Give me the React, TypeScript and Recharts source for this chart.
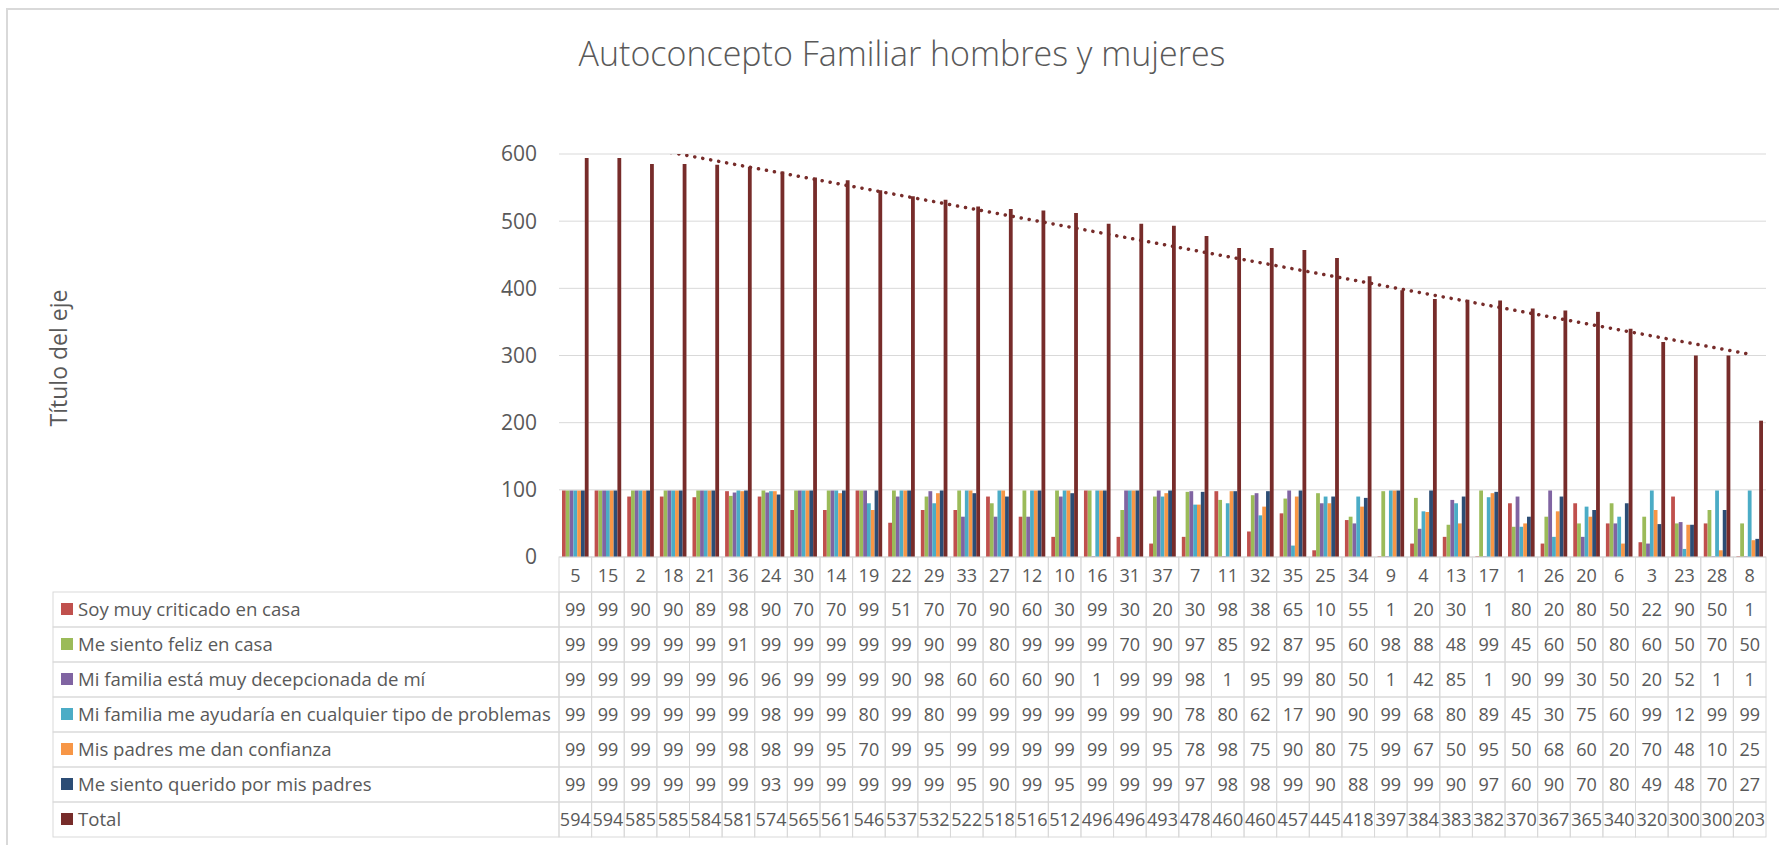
import React from 'react';
import { ComposedChart, Bar, Line, XAxis, YAxis, CartesianGrid } from 'recharts';

const categories = [5, 15, 2, 18, 21, 36, 24, 30, 14, 19, 22, 29, 33, 27, 12, 10, 16, 31, 37, 7, 11, 32, 35, 25, 34, 9, 4, 13, 17, 1, 26, 20, 6, 3, 23, 28, 8];
const soyCriticado = [99, 99, 90, 90, 89, 98, 90, 70, 70, 99, 51, 70, 70, 90, 60, 30, 99, 30, 20, 30, 98, 38, 65, 10, 55, 1, 20, 30, 1, 80, 20, 80, 50, 22, 90, 50, 1];
const sientoFeliz = [99, 99, 99, 99, 99, 91, 99, 99, 99, 99, 99, 90, 99, 80, 99, 99, 99, 70, 90, 97, 85, 92, 87, 95, 60, 98, 88, 48, 99, 45, 60, 50, 80, 60, 50, 70, 50];
const decepcionada = [99, 99, 99, 99, 99, 96, 96, 99, 99, 99, 90, 98, 60, 60, 60, 90, 1, 99, 99, 98, 1, 95, 99, 80, 50, 1, 42, 85, 1, 90, 99, 30, 50, 20, 52, 1, 1];
const ayudaria = [99, 99, 99, 99, 99, 99, 98, 99, 99, 80, 99, 80, 99, 99, 99, 99, 99, 99, 90, 78, 80, 62, 17, 90, 90, 99, 68, 80, 89, 45, 30, 75, 60, 99, 12, 99, 99];
const confianza = [99, 99, 99, 99, 99, 98, 98, 99, 95, 70, 99, 95, 99, 99, 99, 99, 99, 99, 95, 78, 98, 75, 90, 80, 75, 99, 67, 50, 95, 50, 68, 60, 20, 70, 48, 10, 25];
const querido = [99, 99, 99, 99, 99, 99, 93, 99, 99, 99, 99, 99, 95, 90, 99, 95, 99, 99, 99, 97, 98, 98, 99, 90, 88, 99, 99, 90, 97, 60, 90, 70, 80, 49, 48, 70, 27];
const totals = [594, 594, 585, 585, 584, 581, 574, 565, 561, 546, 537, 532, 522, 518, 516, 512, 496, 496, 493, 478, 460, 460, 457, 445, 418, 397, 384, 383, 382, 370, 367, 365, 340, 320, 300, 300, 203];
const yTicks = [0, 100, 200, 300, 400, 500, 600];

const seriesNames = [
  'Soy muy criticado en casa',
  'Me siento feliz en casa',
  'Mi familia está muy decepcionada de mí',
  'Mi familia me ayudaría en cualquier tipo de problemas',
  'Mis padres me dan confianza',
  'Me siento querido por mis padres',
  'Total',
];
const seriesColors = ['#C0504D', '#9BBB59', '#8064A2', '#4BACC6', '#F79646', '#2C4D75', '#772C2A'];
const seriesValues = [soyCriticado, sientoFeliz, decepcionada, ayudaria, confianza, querido, totals];

const FONT = '"Open Sans", "Noto Sans", sans-serif';
const TEXT = '#595959';
const GRID = '#D9D9D9';
const W = 1779;
const H = 845;
const PLOT_LEFT = 559;
const PLOT_RIGHT = 1766;
const PLOT_TOP = 154;
const PLOT_BOTTOM = 557;
const ROW_H = 35;
const TABLE_LEFT = 53;
const Y_AXIS_W = 60;
const BAND = (PLOT_RIGHT - PLOT_LEFT) / categories.length;

// linear trendline (least squares) of Total, as Excel computes it
const n = totals.length;
const mx = (n - 1) / 2;
const my = totals.reduce((a, b) => a + b, 0) / n;
let sxy = 0;
let sxx = 0;
totals.forEach((v, i) => {
  sxy += (i - mx) * (v - my);
  sxx += (i - mx) * (i - mx);
});
const slope = sxy / sxx;
const intercept = my - slope * mx;

const data = categories.map((c, i) => {
  const row: any = { cat: String(c), trend: intercept + slope * i };
  seriesValues.forEach((vals, si) => {
    row['s' + si] = vals[i];
  });
  return row;
});

const CategoryTick = (props: any) => {
  const { x, y, payload } = props;
  return (
    <g>
      <rect x={x - BAND / 2} y={y} width={BAND} height={ROW_H} fill="none" stroke={GRID} strokeWidth={1} />
      <text x={x} y={y + 25} textAnchor="middle" fill={TEXT} fontSize={18} fontFamily={FONT}>
        {payload.value}
      </text>
    </g>
  );
};

const makeRowTick = (si: number) => (props: any) => {
  const { x, y, payload, index } = props;
  const i = payload && typeof payload.index === 'number' ? payload.index : index;
  return (
    <g>
      {i === 0 && (
        <g>
          <rect x={TABLE_LEFT} y={y} width={PLOT_LEFT - TABLE_LEFT} height={ROW_H} fill="none" stroke={GRID} strokeWidth={1} />
          <rect x={61} y={y + 11} width={12} height={12} fill={seriesColors[si]} />
          <text x={78} y={y + 24} fill={TEXT} fontSize={18.6} fontFamily={FONT}>
            {seriesNames[si]}
          </text>
        </g>
      )}
      <rect x={x - BAND / 2} y={y} width={BAND} height={ROW_H} fill="none" stroke={GRID} strokeWidth={1} />
      <text x={x} y={y + 24} textAnchor="middle" fill={TEXT} fontSize={18} fontFamily={FONT}>
        {seriesValues[si][i]}
      </text>
    </g>
  );
};

export default function App() {
  const bottomMargin = H - PLOT_BOTTOM - ROW_H * 8;
  return (
    <div style={{ position: 'absolute', left: 0, top: 0, width: W, height: H, background: '#fff' }}>
      <ComposedChart
        width={W}
        height={H}
        data={data}
        margin={{ top: PLOT_TOP, right: W - PLOT_RIGHT, bottom: bottomMargin, left: PLOT_LEFT - Y_AXIS_W }}
        barGap={0}
        barSize={3.8}
      >
        <CartesianGrid vertical={false} stroke={GRID} strokeWidth={1} />
        <YAxis
          domain={[0, 600]}
          ticks={yTicks}
          allowDataOverflow
          width={Y_AXIS_W}
          axisLine={false}
          tickLine={false}
          tickSize={0}
          tickMargin={22}
          tick={{ fill: TEXT, fontSize: 21, fontFamily: FONT }}
        />
        <XAxis
          dataKey="cat"
          type="category"
          height={ROW_H}
          interval={0}
          axisLine={false}
          tickLine={false}
          tickSize={0}
          tickMargin={0}
          tick={CategoryTick}
        />
        {seriesNames.map((_, si) => (
          <XAxis
            key={'ax' + si}
            xAxisId={'r' + si}
            dataKey="cat"
            type="category"
            height={ROW_H}
            interval={0}
            axisLine={false}
            tickLine={false}
            tickSize={0}
            tickMargin={0}
            tick={makeRowTick(si)}
          />
        ))}
        {seriesNames.map((name, si) => (
          <Bar key={'b' + si} dataKey={'s' + si} name={name} fill={seriesColors[si]} isAnimationActive={false} />
        ))}
        <Line
          dataKey="trend"
          stroke="#772C2A"
          strokeWidth={3.5}
          strokeDasharray="0.1 8"
          strokeLinecap="round"
          dot={false}
          activeDot={false}
          isAnimationActive={false}
        />
      </ComposedChart>
      <svg width={W} height={H} style={{ position: 'absolute', left: 0, top: 0, pointerEvents: 'none' }}>
        <rect x={7} y={9} width={W + 20} height={H + 20} fill="none" stroke={GRID} strokeWidth={2} />
        <text x={902} y={66} textAnchor="middle" fill={TEXT} fontSize={34} fontWeight={300} fontFamily={FONT}>
          Autoconcepto Familiar hombres y mujeres
        </text>
        <text
          x={0}
          y={0}
          transform={`translate(67, 358) rotate(-90)`}
          textAnchor="middle"
          fill={TEXT}
          fontSize={23}
          fontFamily={FONT}
        >
          Título del eje
        </text>
      </svg>
    </div>
  );
}
